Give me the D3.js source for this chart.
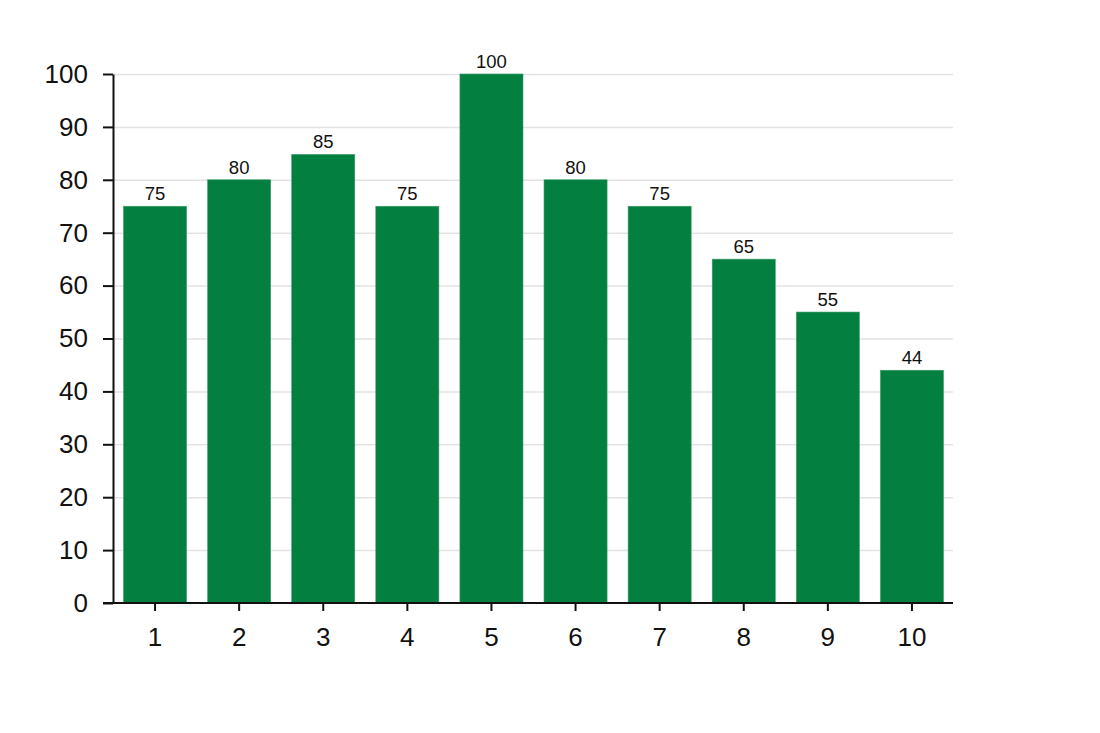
<!DOCTYPE html>
<html><head><meta charset="utf-8">
<script src="https://cdn.jsdelivr.net/npm/d3@7"></script>
<style>body{margin:0;background:#fff}</style>
</head><body>
<svg id="c" width="1100" height="733"></svg>
<script>
const categories = ["1","2","3","4","5","6","7","8","9","10"];
const values = [75,80,84.8,75,100,80,75,65,55,44];
const yTicks = [0,10,20,30,40,50,60,70,80,90,100];

const svg = d3.select("#c");
const mLeft = 113, mRight = 954, mTop = 74, mBottom = 603;
const x = d3.scaleBand().domain(categories).range([mLeft, mRight]).paddingInner(0.25).paddingOuter(0.125);
const y = d3.scaleLinear().domain([0,100]).range([mBottom, mTop]);
const font = "Liberation Sans, Arial, sans-serif";
const fmt = d3.format(".0f");

// gridlines
svg.append("g").selectAll("line").data(yTicks.filter(d=>d>0)).join("line")
  .attr("x1", mLeft).attr("x2", mRight-1)
  .attr("y1", d=>y(d)+0.5).attr("y2", d=>y(d)+0.5)
  .attr("stroke", "#e3e3e3").attr("stroke-width", 1.5);

// bars
svg.append("g").selectAll("rect").data(values).join("rect")
  .attr("x", (d,i)=>x(categories[i]))
  .attr("width", x.bandwidth())
  .attr("y", d=>y(d))
  .attr("height", d=>y(0)-y(d))
  .attr("fill", "#037f3f")
  .attr("stroke", "#3f9c6c").attr("stroke-width", 0.6);

// value labels
svg.append("g").selectAll("text").data(values).join("text")
  .attr("x", (d,i)=>x(categories[i]) + x.bandwidth()/2)
  .attr("y", d=>y(d)-6)
  .attr("text-anchor", "middle")
  .attr("font-family", font).attr("font-size", 18.5).attr("fill", "#111")
  .text(d=>fmt(d));

// y axis
const ya = svg.append("g").attr("transform", `translate(${mLeft},0)`)
  .call(d3.axisLeft(y).tickValues(yTicks).tickSize(10).tickPadding(15).tickSizeOuter(0));
ya.selectAll("text").attr("font-family", font).attr("font-size", 26).attr("fill", "#111");
ya.selectAll("line,path").attr("stroke", "#111").attr("stroke-width", 2);

// x axis
const xa = svg.append("g").attr("transform", `translate(0,${mBottom})`)
  .call(d3.axisBottom(x).tickSize(8).tickPadding(17).tickSizeOuter(0));
xa.select("path").attr("d", `M${mLeft-10},0H${mRight-1}`);
xa.selectAll("text").attr("font-family", font).attr("font-size", 26).attr("fill", "#111");
xa.selectAll("line,path").attr("stroke", "#111").attr("stroke-width", 2);
</script>
</body></html>
